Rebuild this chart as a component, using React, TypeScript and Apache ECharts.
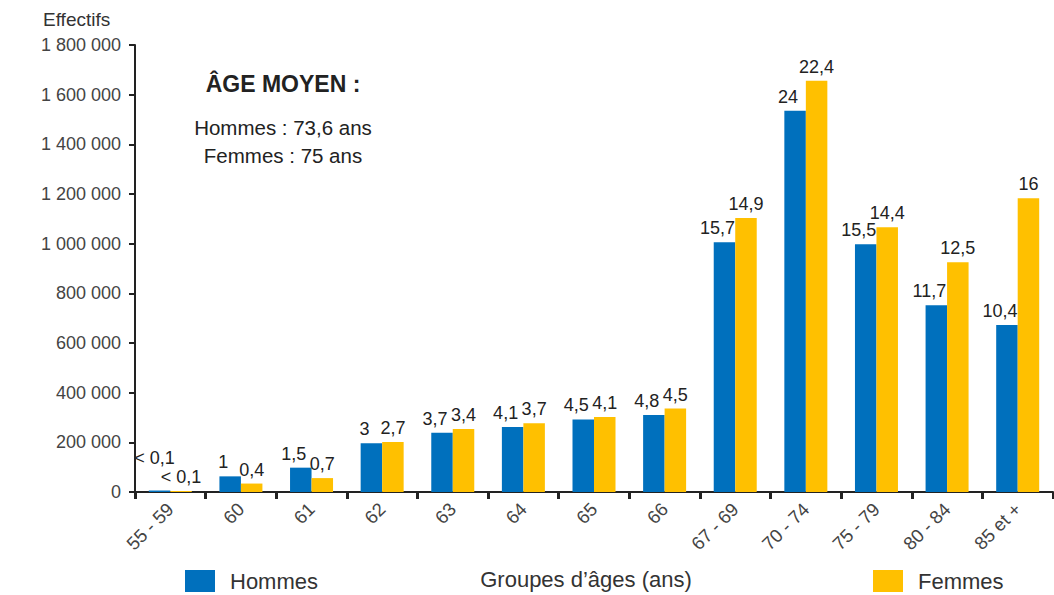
import React, { useEffect, useRef } from "react";
import * as echarts from "echarts";

const categories = ["55 - 59", "60", "61", "62", "63", "64", "65", "66", "67 - 69", "70 - 74", "75 - 79", "80 - 84", "85 et +"];
const hommes = [6000, 63000, 98000, 196000, 239000, 262000, 292000, 310000, 1006000, 1535000, 998000, 752000, 672000];
const femmes = [4000, 34000, 56000, 201000, 254000, 277000, 302000, 336000, 1103000, 1656000, 1066000, 925000, 1183000];
const hommesPct = ["< 0,1", "1", "1,5", "3", "3,7", "4,1", "4,5", "4,8", "15,7", "24", "15,5", "11,7", "10,4"];
const femmesPct = ["< 0,1", "0,4", "0,7", "2,7", "3,4", "3,7", "4,1", "4,5", "14,9", "22,4", "14,4", "12,5", "16"];

const FONT = "'Liberation Sans', Arial, sans-serif";
const BLUE = "#0070BD";
const YELLOW = "#FFC000";

export default function App() {
  const ref = useRef<HTMLDivElement>(null);
  useEffect(() => {
    if (!ref.current) return;
    const chart = echarts.init(ref.current, undefined, { renderer: "svg" });
    const fmt = (v: number) => String(v).replace(/\B(?=(\d{3})+(?!\d))/g, " ");
    const legendBase = {
      itemWidth: 30,
      itemHeight: 22,
      padding: 0,
      icon: "rect",
      textStyle: { fontSize: 22, color: "#333", fontFamily: FONT, padding: [0, 0, 0, 10] },
    };
    chart.setOption({
      animation: false,
      textStyle: { fontFamily: FONT },
      grid: { left: 135, right: 1, top: 45, bottom: 103, containLabel: false },
      legend: [
        { ...legendBase, data: ["Hommes"], left: 185, top: 570 },
        { ...legendBase, data: ["Femmes"], left: 873, top: 570 },
      ],
      xAxis: {
        type: "category",
        data: categories,
        axisLine: { lineStyle: { color: "#222", width: 2 } },
        axisTick: { show: true, length: 7, lineStyle: { color: "#222", width: 3 } },
        axisLabel: { rotate: 45, fontSize: 18.5, color: "#444", margin: 14, fontFamily: FONT },
      },
      yAxis: {
        type: "value",
        min: 0,
        max: 1800000,
        interval: 200000,
        splitLine: { show: false },
        axisLine: { show: true, lineStyle: { color: "#222", width: 2 } },
        axisTick: { show: true, length: 6, lineStyle: { color: "#222", width: 2 } },
        axisLabel: { fontSize: 18, color: "#444", margin: 14, formatter: fmt, fontFamily: FONT },
      },
      graphic: [
        { type: "text", x: 43, y: 19, style: { text: "Effectifs", font: "19px " + FONT, fill: "#333", textVerticalAlign: "middle" } },
        { type: "text", x: 283, y: 84, style: { text: "ÂGE MOYEN :", font: "bold 23px " + FONT, fill: "#222", textAlign: "center", textVerticalAlign: "middle" } },
        { type: "text", x: 283, y: 127, style: { text: "Hommes : 73,6 ans", font: "20.5px " + FONT, fill: "#222", textAlign: "center", textVerticalAlign: "middle" } },
        { type: "text", x: 283, y: 155, style: { text: "Femmes : 75 ans", font: "20.5px " + FONT, fill: "#222", textAlign: "center", textVerticalAlign: "middle" } },
        { type: "text", x: 586, y: 579, style: { text: "Groupes d’âges (ans)", font: "22px " + FONT, fill: "#333", textAlign: "center", textVerticalAlign: "middle" } },
      ],
      series: [
        {
          name: "Hommes",
          type: "bar",
          barWidth: 21.5,
          barGap: "0%",
          itemStyle: { color: BLUE },
          data: hommes.map((v, i) => (i === 0 ? { value: v, label: { offset: [-5, -19] } } : v)),
          label: {
            show: true,
            position: "top",
            distance: 5,
            offset: [-7, 0],
            fontSize: 18,
            color: "#222",
            fontFamily: FONT,
            formatter: (p: any) => hommesPct[p.dataIndex],
          },
        },
        {
          name: "Femmes",
          type: "bar",
          barWidth: 21.5,
          barGap: "0%",
          itemStyle: { color: YELLOW },
          data: femmes,
          label: {
            show: true,
            position: "top",
            distance: 5,
            fontSize: 18,
            color: "#222",
            fontFamily: FONT,
            formatter: (p: any) => femmesPct[p.dataIndex],
          },
        },
      ],
    });
    return () => chart.dispose();
  }, []);
  return <div ref={ref} style={{ position: "fixed", left: 0, top: 0, width: 1054, height: 595, background: "#fff" }} />;
}
